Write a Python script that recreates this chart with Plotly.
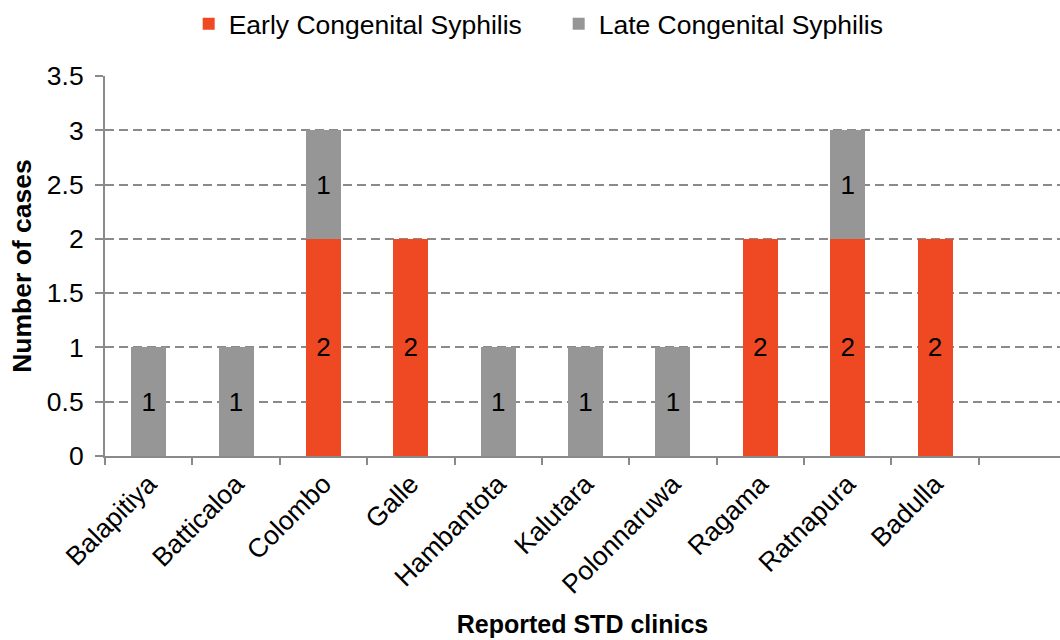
import plotly.graph_objects as go

# Congenital syphilis cases by reporting STD clinic
clinics = ["Balapitiya", "Batticaloa", "Colombo", "Galle", "Hambantota",
           "Kalutara", "Polonnaruwa", "Ragama", "Ratnapura", "Badulla"]
early_cases = [None, None, 2, 2, None, None, None, 2, 2, 2]
late_cases = [1, 1, 1, None, 1, 1, 1, None, 1, None]

RED = "#EF4923"
GREY = "#969696"
AXIS_GREY = "#8a8a8a"
FONT = "Liberation Sans, Arial, sans-serif"

fig = go.Figure()
for name, vals, color in [("Early Congenital Syphilis", early_cases, RED),
                          ("Late Congenital Syphilis", late_cases, GREY)]:
    fig.add_trace(go.Bar(
        name=name, x=clinics, y=vals, marker_color=color, marker_line_width=0,
        texttemplate="%{y}", textposition="inside", insidetextanchor="middle",
        textangle=0, constraintext="none",
        textfont=dict(size=26, color="black", family=FONT),
    ))

fig.update_layout(
    barmode="stack",
    bargap=0.6,
    width=1060, height=640,
    margin=dict(l=105, r=0, t=76, b=184, autoexpand=False),
    paper_bgcolor="white", plot_bgcolor="white",
    font=dict(family=FONT, size=26, color="black"),
    showlegend=True,
    legend=dict(orientation="h", xref="container", yref="container",
                x=0.178, xanchor="left", y=1.0, yanchor="top",
                font=dict(size=26.5), traceorder="normal",
                itemwidth=30, entrywidth=325, entrywidthmode="pixels"),
)

fig.update_xaxes(
    type="category", range=[-0.5, 10.43],
    tickson="boundaries", ticks="outside", ticklen=7, tickwidth=1.5,
    tickcolor=AXIS_GREY, showline=True, linecolor=AXIS_GREY, linewidth=2,
    showgrid=False, tickangle=-45, tickfont=dict(size=26.5),
    title=dict(text="<b>Reported STD clinics</b>", font=dict(size=25), standoff=17),
    automargin=False,
)
fig.update_yaxes(
    range=[0, 3.5], dtick=0.5, tick0=0,
    ticks="outside", ticklen=8, tickwidth=1.5, tickcolor=AXIS_GREY,
    showline=True, linecolor=AXIS_GREY, linewidth=2, zeroline=False,
    showgrid=True, gridcolor=AXIS_GREY, gridwidth=1.5, griddash="9px,5px",
    tickfont=dict(size=26.5), ticklabelstandoff=6,
    title=dict(text="<b>Number of cases</b>", font=dict(size=26.5), standoff=8),
    automargin=False,
)

fig.write_html("out.html")
